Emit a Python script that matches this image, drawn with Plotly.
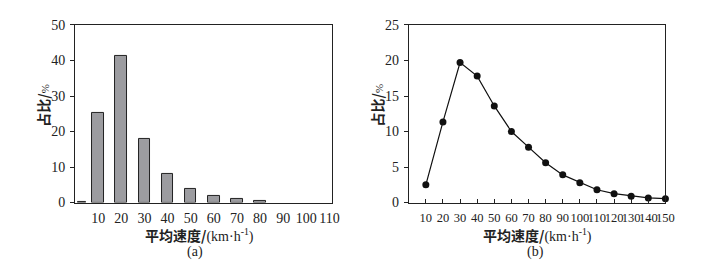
import plotly.graph_objects as go

# Left chart (a): bar distribution
bar_x = [3, 10, 20, 30, 40, 50, 60, 70, 80]
bar_y = [0.3, 25.3, 41.4, 18.0, 8.2, 3.9, 2.0, 0.9, 0.4]
bar_w = [3.4, 5, 5, 5, 5, 5, 5, 5, 5]
a_ticks = [10, 20, 30, 40, 50, 60, 70, 80, 90, 100, 110]

# Right chart (b): line distribution
line_x = [10, 20, 30, 40, 50, 60, 70, 80, 90, 100, 110, 120, 130, 140, 150]
line_y = [2.5, 11.35, 19.7, 17.8, 13.6, 10.0, 7.8, 5.6, 3.9, 2.8, 1.8, 1.25, 0.9, 0.65, 0.55]

SERIF = "Liberation Serif, Times New Roman, serif"
CJK = "Noto Sans CJK SC"

fig = go.Figure()
fig.add_trace(go.Bar(x=bar_x, y=bar_y, width=bar_w,
                     marker=dict(color="#9c9ca0", line=dict(color="#222222", width=1)),
                     xaxis="x", yaxis="y", showlegend=False))
fig.add_trace(go.Scatter(x=line_x, y=line_y, mode="lines+markers",
                         line=dict(color="#111111", width=1.2),
                         marker=dict(color="#111111", size=7),
                         cliponaxis=False,
                         xaxis="x2", yaxis="y2", showlegend=False))

ydom = [1 - 207 / 272, 1 - 19 / 272]
axcommon = dict(showline=True, linecolor="#222222", linewidth=1, mirror=True,
                showgrid=False, zeroline=False, tickangle=0)
tf = dict(family=SERIF, size=14, color="#222222")

fig.update_layout(
    width=706, height=272,
    margin=dict(l=0, r=0, t=0, b=0),
    paper_bgcolor="white", plot_bgcolor="white",
    bargap=0,
    xaxis=dict(domain=[76 / 706, 336 / 706], range=[0, 111],
               tickvals=a_ticks, ticks="", anchor="y", tickfont=tf,
               ticklabelstandoff=3, **axcommon),
    yaxis=dict(domain=ydom, range=[0, 50], tickvals=[0, 10, 20, 30, 40, 50],
               ticks="outside", ticklen=4, tickcolor="#222222", anchor="x",
               tickfont=tf, ticklabelstandoff=2, **axcommon),
    xaxis2=dict(domain=[414 / 706, 674 / 706], range=[0, 150],
                tickvals=line_x, ticks="inside", ticklen=4, tickcolor="#222222",
                anchor="y2", tickfont=dict(family=SERIF, size=12.5, color="#222222"),
                ticklabelstandoff=3, **axcommon),
    yaxis2=dict(domain=ydom, range=[0, 25], tickvals=[0, 5, 10, 15, 20, 25],
                ticks="outside", ticklen=4, tickcolor="#222222", anchor="x2",
                tickfont=tf, ticklabelstandoff=2, **axcommon),
)

xtitle = ("<b>平均速度/</b><span style='font-family:Liberation Serif'>(km·h<sup>-1</sup>)</span>")
ytitle = ("<b>占比/</b><span style='font-family:Liberation Serif;font-size:11px'>%</span>")

anns = [
    dict(x=202, y=241, text=xtitle),
    dict(x=544, y=241, text=xtitle),
    dict(x=198, y=259, text="(a)", font=dict(family=SERIF, size=14, color="#222222")),
    dict(x=542, y=259, text="(b)", font=dict(family=SERIF, size=14, color="#222222")),
    dict(x=44, y=104, text=ytitle, textangle=-90),
    dict(x=382, y=104, text=ytitle, textangle=-90),
]
for a in anns:
    fig.add_annotation(x=a["x"] / 706, y=1 - a["y"] / 272, xref="paper", yref="paper",
                       text=a["text"], showarrow=False, xanchor="center", yanchor="middle",
                       textangle=a.get("textangle", 0),
                       font=a.get("font", dict(family=CJK, size=14, color="#222222")))

fig.write_html("out.html")
